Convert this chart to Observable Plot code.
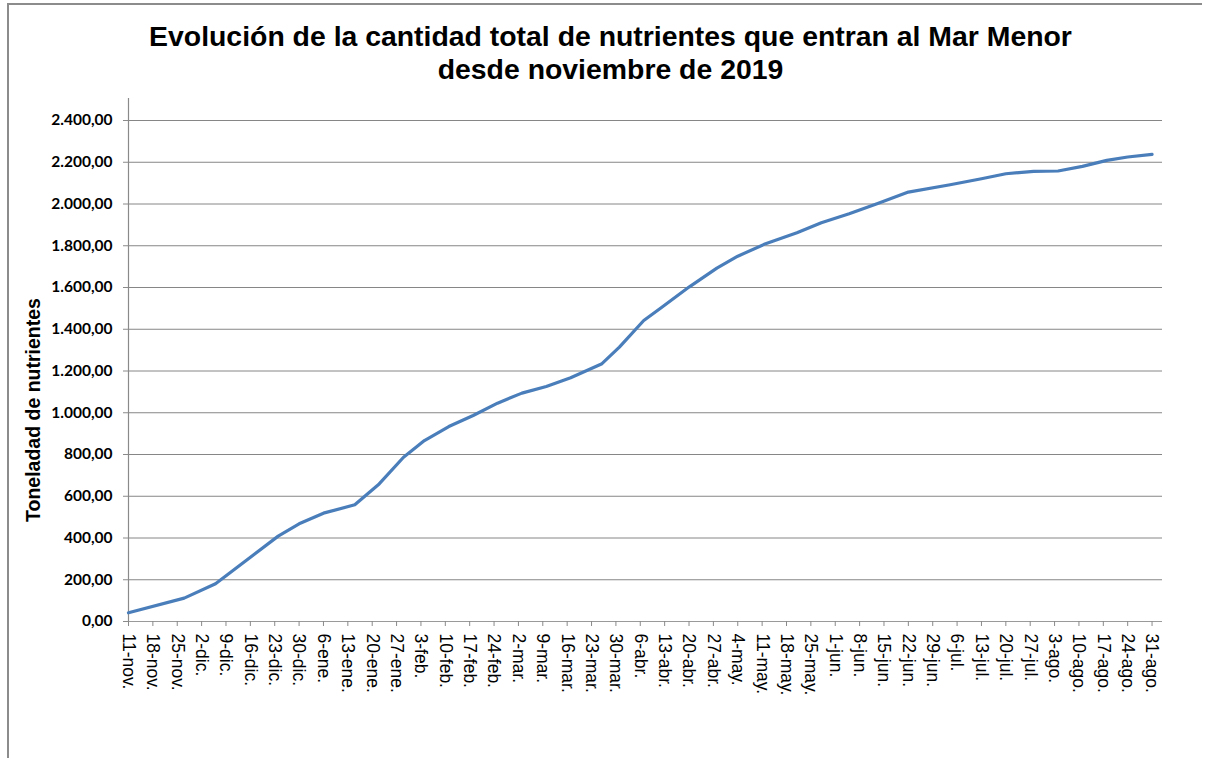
<!DOCTYPE html>
<html>
<head>
<meta charset="utf-8">
<script src="https://cdn.jsdelivr.net/npm/d3@7"></script>
<script src="https://cdn.jsdelivr.net/npm/@observablehq/plot@0.6"></script>
<style>
  html, body { margin: 0; padding: 0; background: #fff; }
  #wrap { position: relative; width: 1211px; height: 758px; overflow: hidden; background: #fff; }
  #title { position: absolute; left: 11px; top: 20px; width: 1199px; text-align: center;
    font-family: "Liberation Sans", Arial, sans-serif; font-weight: bold; font-size: 28.4px; line-height: 33px; color: #000; }
  #chart { position: absolute; left: 0; top: 90px; }
  #border { position: absolute; left: 7px; top: 3px; width: 1193px; height: 800px;
    border-left: 2px solid #8c8c8c; border-top: 2px solid #8c8c8c; pointer-events: none; }
</style>
</head>
<body>
<div id="wrap">
  <div id="border"></div>
  <div id="title">Evolución de la cantidad total de nutrientes que entran al Mar Menor<br>desde noviembre de 2019</div>
  <div id="chart"></div>
</div>
<script>
// Data
const dates = [
  "2019-11-11","2019-11-27","2019-12-06","2019-12-24","2019-12-30","2020-01-06","2020-01-15",
  "2020-01-22","2020-01-29","2020-02-04","2020-02-11","2020-02-18","2020-02-25","2020-03-03",
  "2020-03-10","2020-03-17","2020-03-26","2020-03-31","2020-04-07","2020-04-12","2020-04-20",
  "2020-04-28","2020-05-04","2020-05-12","2020-05-21","2020-05-28","2020-06-05","2020-06-13",
  "2020-06-22","2020-07-04","2020-07-13","2020-07-20","2020-07-28","2020-08-04","2020-08-11",
  "2020-08-18","2020-08-24","2020-08-31"
];
const values = [
  42, 112, 181, 409, 468, 519, 559,
  659, 787, 867, 934, 987, 1046, 1094,
  1126, 1168, 1235, 1314, 1442, 1503, 1602,
  1693, 1750, 1810, 1862, 1910, 1953, 2001,
  2057, 2092, 2121, 2145, 2156, 2158, 2180,
  2209, 2225, 2238
];
const tickLabels = [
  "11-nov.","18-nov.","25-nov.","2-dic.","9-dic.","16-dic.","23-dic.","30-dic.",
  "6-ene.","13-ene.","20-ene.","27-ene.","3-feb.","10-feb.","17-feb.","24-feb.",
  "2-mar.","9-mar.","16-mar.","23-mar.","30-mar.","6-abr.","13-abr.","20-abr.","27-abr.",
  "4-may.","11-may.","18-may.","25-may.","1-jun.","8-jun.","15-jun.","22-jun.","29-jun.",
  "6-jul.","13-jul.","20-jul.","27-jul.","3-ago.","10-ago.","17-ago.","24-ago.","31-ago."
];
const yTicks = [0, 200, 400, 600, 800, 1000, 1200, 1400, 1600, 1800, 2000, 2200, 2400];
const xStart = new Date("2019-11-11T00:00:00Z");
const xEnd = new Date("2020-09-03T00:00:00Z");
const yTitle = "Toneladad de nutrientes";

const data = dates.map((d, i) => ({date: new Date(d + "T00:00:00Z"), value: values[i]}));
const tickDates = tickLabels.map((_, i) => d3.utcDay.offset(xStart, 7 * i));
const labelByTime = new Map(tickDates.map((d, i) => [+d, tickLabels[i]]));

const es = d3.formatLocale({decimal: ",", thousands: ".", grouping: [3], currency: ["", " €"]});
const fmt = es.format(",.2f");

const H = 668;
const chart = Plot.plot({
  width: 1211,
  height: H,
  marginLeft: 128,
  marginRight: 49,
  marginTop: 8,
  marginBottom: 137,
  style: {fontFamily: "'Liberation Sans', Arial, sans-serif", color: "#000", background: "transparent", overflow: "visible"},
  x: {type: "utc", domain: [xStart, xEnd]},
  y: {domain: [0, 2400], range: [H - 137, 30]},
  marks: [
    Plot.gridY(yTicks, {stroke: "#868686", strokeOpacity: 1, strokeWidth: 1}),
    Plot.ruleY([0], {stroke: "#9a9a9a", strokeWidth: 1.2}),
    Plot.ruleX([xStart], {stroke: "#8a8a8a", strokeWidth: 1.2}),
    Plot.axisY({
      ticks: yTicks, tickFormat: fmt, tickSize: 5, tickPadding: 11,
      stroke: "#8a8a8a", fontSize: 15.5, fontWeight: "bold",
      fontFamily: "Lato, 'Open Sans', sans-serif", fill: "#000", label: null
    }),
    Plot.axisX({
      ticks: tickDates, tickFormat: d => labelByTime.get(+d), tickSize: 5, tickPadding: 7,
      tickRotate: 90, stroke: "#8a8a8a", fontSize: 17.5, fill: "#000", label: null
    }),
    Plot.line(data, {x: "date", y: "value", stroke: "#4a7ebb", strokeWidth: 3.2,
      strokeLinejoin: "round", strokeLinecap: "round"}),
    Plot.text([yTitle], {
      frameAnchor: "left", dx: -95, dy: 50, rotate: -90, text: d => d,
      fontSize: 19.5, fontWeight: "bold", fill: "#000", textAnchor: "middle"
    })
  ]
});
document.getElementById("chart").appendChild(chart);
</script>
</body>
</html>
